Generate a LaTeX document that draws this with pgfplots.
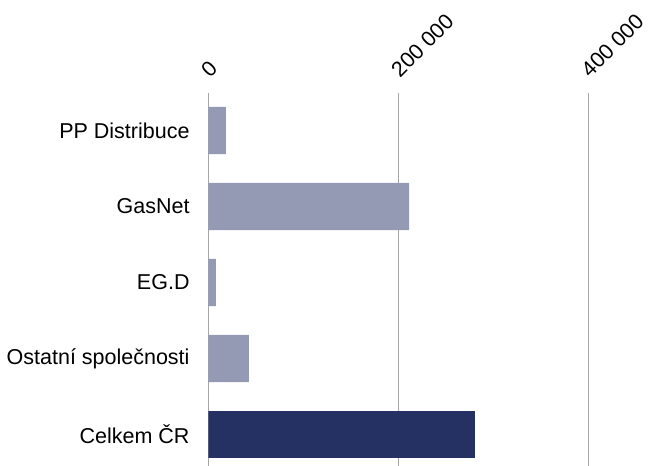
\documentclass[border=0pt]{standalone}
\usepackage{pgfplots}
\pgfplotsset{compat=1.18}
\usepackage{fontspec}
\setmainfont{Liberation Sans}
\definecolor{barlight}{HTML}{9499B4}
\definecolor{bardark}{HTML}{253162}
\definecolor{gridc}{HTML}{A6A6A6}
\begin{document}
\begin{tikzpicture}
\begin{axis}[
  scale only axis,
  width=427.5bp, height=373.5bp,
  xbar, bar shift=0pt, bar width=0.62,
  xmin=0, xmax=450000,
  ymin=-0.5, ymax=4.414, y dir=reverse,
  axis line style={draw=none},
  xmajorgrids, grid style={gridc, line width=0.8bp},
  scaled x ticks=false,
  xtick={0,200000,400000},
  xticklabels={0,200 000,400 000},
  xticklabel pos=upper,
  xticklabel style={xshift=2bp, yshift=9bp, rotate=45, anchor=south west},
  ytick={0,1,2,3,4},
  yticklabels={PP Distribuce,GasNet,EG.D,Ostatní společnosti,Celkem ČR},
  yticklabel style={anchor=east, xshift=-11bp},
  tick style={draw=none},
  tick label style={font=\fontsize{21.5bp}{25bp}\selectfont},
  /pgf/number format/assume math mode=true,
]
\addplot[fill=barlight, draw=none] coordinates {(18600,0) (211300,1) (8100,2) (42800,3)};
\addplot[fill=bardark, draw=none] coordinates {(281000,4)};
\end{axis}
\pgfresetboundingbox
\path[use as bounding box] (current axis.south west) ++(-208.3bp,0) rectangle ++(649bp,466bp);
\end{tikzpicture}
\end{document}
